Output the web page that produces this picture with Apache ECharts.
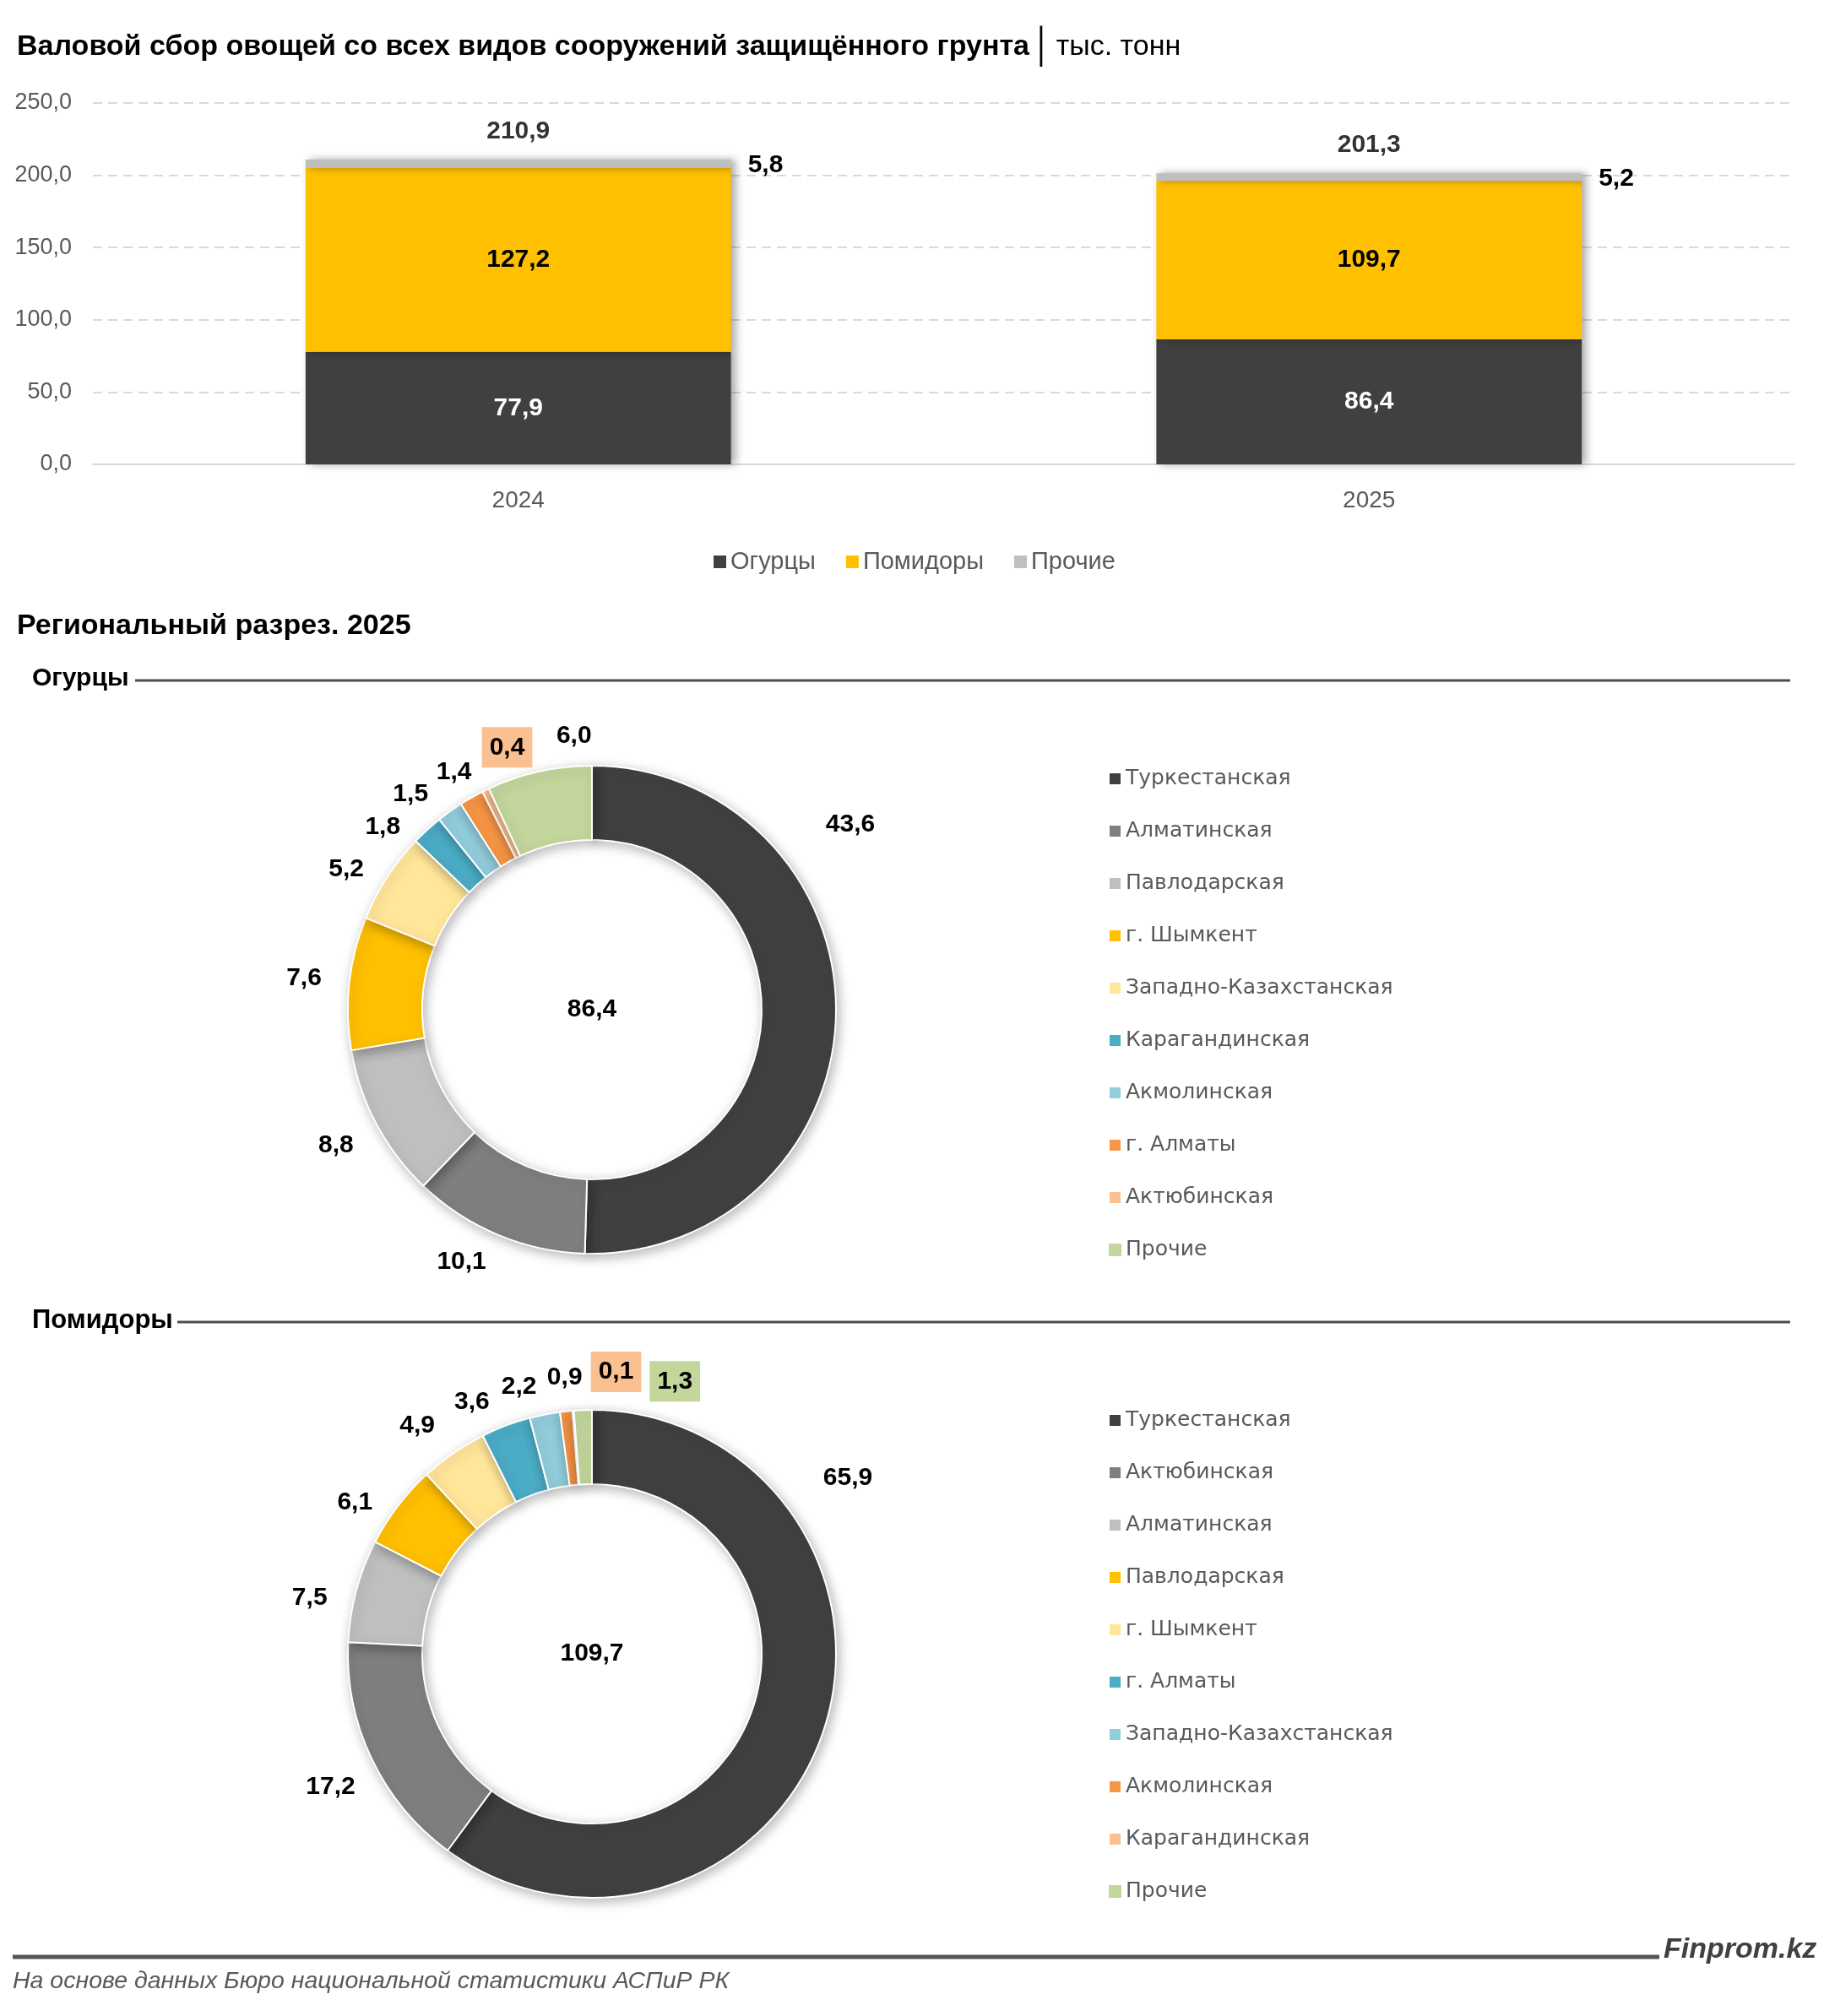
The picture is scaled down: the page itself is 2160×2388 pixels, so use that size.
<!DOCTYPE html>
<html>
<head>
<meta charset="utf-8">
<script src="https://cdn.jsdelivr.net/npm/echarts@6/dist/echarts.min.js"></script>
<style>
html,body{margin:0;padding:0;background:#fff;}
#c{width:2160px;height:2388px;}
</style>
</head>
<body>
<div id="c"></div>
<script>
// ---------- DATA ----------
const years = ['2024', '2025'];
const seriesNames = ['Огурцы', 'Помидоры', 'Прочие'];
const cucumbers = [77.9, 86.4];
const tomatoes = [127.2, 109.7];
const others = [5.8, 5.2];
const totals = [210.9, 201.3];
const yMin = 0, yMax = 250, yStep = 50;

const sectionTitle = 'Региональный разрез. 2025';
const cucRegions = ['Туркестанская', 'Алматинская', 'Павлодарская', 'г. Шымкент', 'Западно-Казахстанская', 'Карагандинская', 'Акмолинская', 'г. Алматы', 'Актюбинская', 'Прочие'];
const cucValues = [43.6, 10.1, 8.8, 7.6, 5.2, 1.8, 1.5, 1.4, 0.4, 6.0];
const tomRegions = ['Туркестанская', 'Актюбинская', 'Алматинская', 'Павлодарская', 'г. Шымкент', 'г. Алматы', 'Западно-Казахстанская', 'Акмолинская', 'Карагандинская', 'Прочие'];
const tomValues = [65.9, 17.2, 7.5, 6.1, 4.9, 3.6, 2.2, 0.9, 0.1, 1.3];

// ---------- STYLE ----------
const FONT = '"Liberation Sans Narrow", "Liberation Sans", sans-serif';
const LFONT = '"DejaVu Sans", sans-serif';
const barColors = ['#404040', '#ffc000', '#bfbfbf'];
const palette = ['#404040', '#7f7f7f', '#bfbfbf', '#ffc000', '#ffe699', '#4bacc6', '#92cddc', '#f79646', '#fac090', '#c3d69b'];
const fmt = v => (Math.round(v * 10) / 10).toFixed(1).replace('.', ',');
const sum = a => a.reduce((s, v) => s + v, 0);

// label tweaks (style only: small offsets from the library's label position)
const boxed1 = [8], boxed2 = [8, 9];
const nudge1 = {0: [-37, -224], 1: [-22, -18], 4: [-3, 20], 5: [-16, 37], 6: [-15, 24], 7: [6, 17], 8: [49, -2], 9: [53, 11]};
const nudge2 = {0: [-23, -315], 1: [0, 10], 2: [-3, 23], 3: [-8, 29], 4: [-12, 12], 5: [-21, 23], 6: [-20, 20], 7: [4, 14], 8: [55, 8], 9: [111, 20]};

const pie1 = {c: [701, 1196]}, pie2 = {c: [701, 1959]};
const R = [201, 289], LR = [312, 368];

function pieData(names, vals) {
  return names.map((n, i) => ({name: n, value: vals[i], itemStyle: {color: palette[i]}}));
}
function labelData(names, vals, boxed, nudge) {
  return names.map((n, i) => {
    const lab = {};
    if (nudge[i]) lab.offset = nudge[i];
    if (boxed.indexOf(i) >= 0) { lab.backgroundColor = palette[i]; lab.padding = [10, 9, 8, 9]; }
    return {name: n, value: vals[i], label: lab};
  });
}
function pieSeries(center, names, vals) {
  return {
    type: 'pie', center: center, radius: R, startAngle: 90, clockwise: true,
    avoidLabelOverlap: false, label: {show: false}, labelLine: {show: false},
    itemStyle: {borderColor: '#fff', borderWidth: 2, shadowBlur: 14, shadowColor: 'rgba(0,0,0,0.28)', shadowOffsetX: 3, shadowOffsetY: 4},
    emphasis: {disabled: true}, silent: true,
    data: pieData(names, vals), z: 3
  };
}
function labelSeries(center, names, vals, boxed, nudge) {
  return {
    type: 'pie', center: center, radius: LR, startAngle: 90, clockwise: true,
    avoidLabelOverlap: false, silent: true, emphasis: {disabled: true},
    itemStyle: {color: 'rgba(0,0,0,0)'},
    label: {show: true, position: 'inside', formatter: p => fmt(p.value), color: '#000', fontFamily: FONT, fontWeight: 'bold', fontSize: 30},
    labelLine: {show: false},
    labelLayout: {hideOverlap: false},
    data: labelData(names, vals, boxed, nudge), z: 4
  };
}
function legendFor(names, top) {
  return {
    orient: 'vertical', left: 1307, top: top, icon: 'rect', itemWidth: 15, itemHeight: 15, itemGap: 37,
    selectedMode: false,
    textStyle: {color: '#595959', fontFamily: LFONT, fontSize: 25, padding: [0, 0, 0, 0]},
    data: names.map((n, i) => ({name: n, itemStyle: {color: palette[i]}}))
  };
}

const chart = echarts.init(document.getElementById('c'), null, {renderer: 'canvas'});
const barLabel = (color, pos) => ({show: true, position: pos, color: color, fontFamily: FONT, fontWeight: 'bold', fontSize: 30, formatter: p => fmt(p.value)});
const barShadow = {shadowColor: 'rgba(0,0,0,0.35)', shadowBlur: 10, shadowOffsetX: 5};

chart.setOption({
  animation: false,
  backgroundColor: '#fff',
  grid: {left: 110, right: 35, top: 122, height: 428, containLabel: false},
  xAxis: {
    type: 'category', data: years,
    axisLine: {show: true, lineStyle: {color: '#d9d9d9', width: 2}},
    axisTick: {show: false},
    axisLabel: {color: '#595959', fontFamily: FONT, fontSize: 28, margin: 29}
  },
  yAxis: {
    type: 'value', min: yMin, max: yMax, interval: yStep,
    axisLine: {show: false}, axisTick: {show: false},
    axisLabel: {color: '#595959', fontFamily: FONT, fontSize: 27, margin: 25, formatter: v => fmt(v)},
    splitLine: {lineStyle: {color: '#d9d9d9', width: 2, type: [11, 7]}}
  },
  legend: [
    {left: 840, top: 646, icon: 'rect', itemWidth: 15, itemHeight: 15, itemGap: 36, selectedMode: false,
     textStyle: {color: '#595959', fontFamily: FONT, fontSize: 29},
     data: seriesNames.map((n, i) => ({name: n, itemStyle: {color: barColors[i]}}))},
    legendFor(cucRegions, 905),
    legendFor(tomRegions, 1665)
  ],
  series: [
    {name: seriesNames[0], type: 'bar', stack: 't', barWidth: '50%', data: cucumbers,
     itemStyle: Object.assign({color: barColors[0]}, barShadow), label: barLabel('#fff', 'inside'), z: 2},
    {name: seriesNames[1], type: 'bar', stack: 't', data: tomatoes,
     itemStyle: Object.assign({color: barColors[1]}, barShadow), label: barLabel('#000', 'inside'), z: 2},
    {name: seriesNames[2], type: 'bar', stack: 't', data: others,
     itemStyle: Object.assign({color: barColors[2]}, barShadow),
     label: Object.assign(barLabel('#000', 'right'), {distance: 20, offset: [0, 2]}), z: 2},
    {name: 'Итого', type: 'scatter', data: totals, symbolSize: 1, itemStyle: {color: 'rgba(0,0,0,0)'},
     label: Object.assign(barLabel('#000', 'top'), {distance: 18}), silent: true, z: 5},
    pieSeries(pie1.c, cucRegions, cucValues),
    labelSeries(pie1.c, cucRegions, cucValues, boxed1, nudge1),
    pieSeries(pie2.c, tomRegions, tomValues),
    labelSeries(pie2.c, tomRegions, tomValues, boxed2, nudge2)
  ],
  graphic: [
    {type: 'text', x: 20, y: 56, style: {
      text: '{b|Валовой сбор овощей со всех видов сооружений защищённого грунта} {s|│} {n|тыс. тонн}',
      verticalAlign: 'middle',
      rich: {
        b: {fontFamily: FONT, fontWeight: 'bold', fontSize: 34, fill: '#000'},
        s: {fontFamily: FONT, fontSize: 40, fill: '#000'},
        n: {fontFamily: FONT, fontSize: 34, fill: '#000'}
      }}},
    {type: 'text', x: 20, y: 742, style: {text: sectionTitle, fontFamily: FONT, fontWeight: 'bold', fontSize: 34, fill: '#000', verticalAlign: 'middle'}},
    {type: 'text', x: 38, y: 804, style: {text: seriesNames[0], fontFamily: FONT, fontWeight: 'bold', fontSize: 30, fill: '#000', verticalAlign: 'middle'}},
    {type: 'line', shape: {x1: 160, y1: 806, x2: 2120, y2: 806}, style: {stroke: '#4d4d4d', lineWidth: 3}},
    {type: 'text', x: 38, y: 1564, style: {text: seriesNames[1], fontFamily: FONT, fontWeight: 'bold', fontSize: 31, fill: '#000', verticalAlign: 'middle'}},
    {type: 'line', shape: {x1: 210, y1: 1566, x2: 2120, y2: 1566}, style: {stroke: '#4d4d4d', lineWidth: 3}},
    {type: 'text', x: pie1.c[0], y: pie1.c[1], z: 10, style: {text: fmt(sum(cucValues)), fontFamily: FONT, fontWeight: 'bold', fontSize: 30, fill: '#000', align: 'center', verticalAlign: 'middle'}},
    {type: 'text', x: pie2.c[0], y: pie2.c[1], z: 10, style: {text: fmt(sum(tomValues)), fontFamily: FONT, fontWeight: 'bold', fontSize: 30, fill: '#000', align: 'center', verticalAlign: 'middle'}},
    {type: 'line', shape: {x1: 15, y1: 2318, x2: 1965, y2: 2318}, style: {stroke: '#555', lineWidth: 5}},
    {type: 'text', x: 1970, y: 2310, style: {text: 'Finprom.kz', fontFamily: FONT, fontWeight: 'bold', fontStyle: 'italic', fontSize: 34, fill: '#404040', verticalAlign: 'middle'}},
    {type: 'text', x: 15, y: 2347, style: {text: 'На основе данных Бюро национальной статистики АСПиР РК', fontFamily: FONT, fontStyle: 'italic', fontSize: 28.5, fill: '#595959', verticalAlign: 'middle'}}
  ]
});
</script>
</body>
</html>
